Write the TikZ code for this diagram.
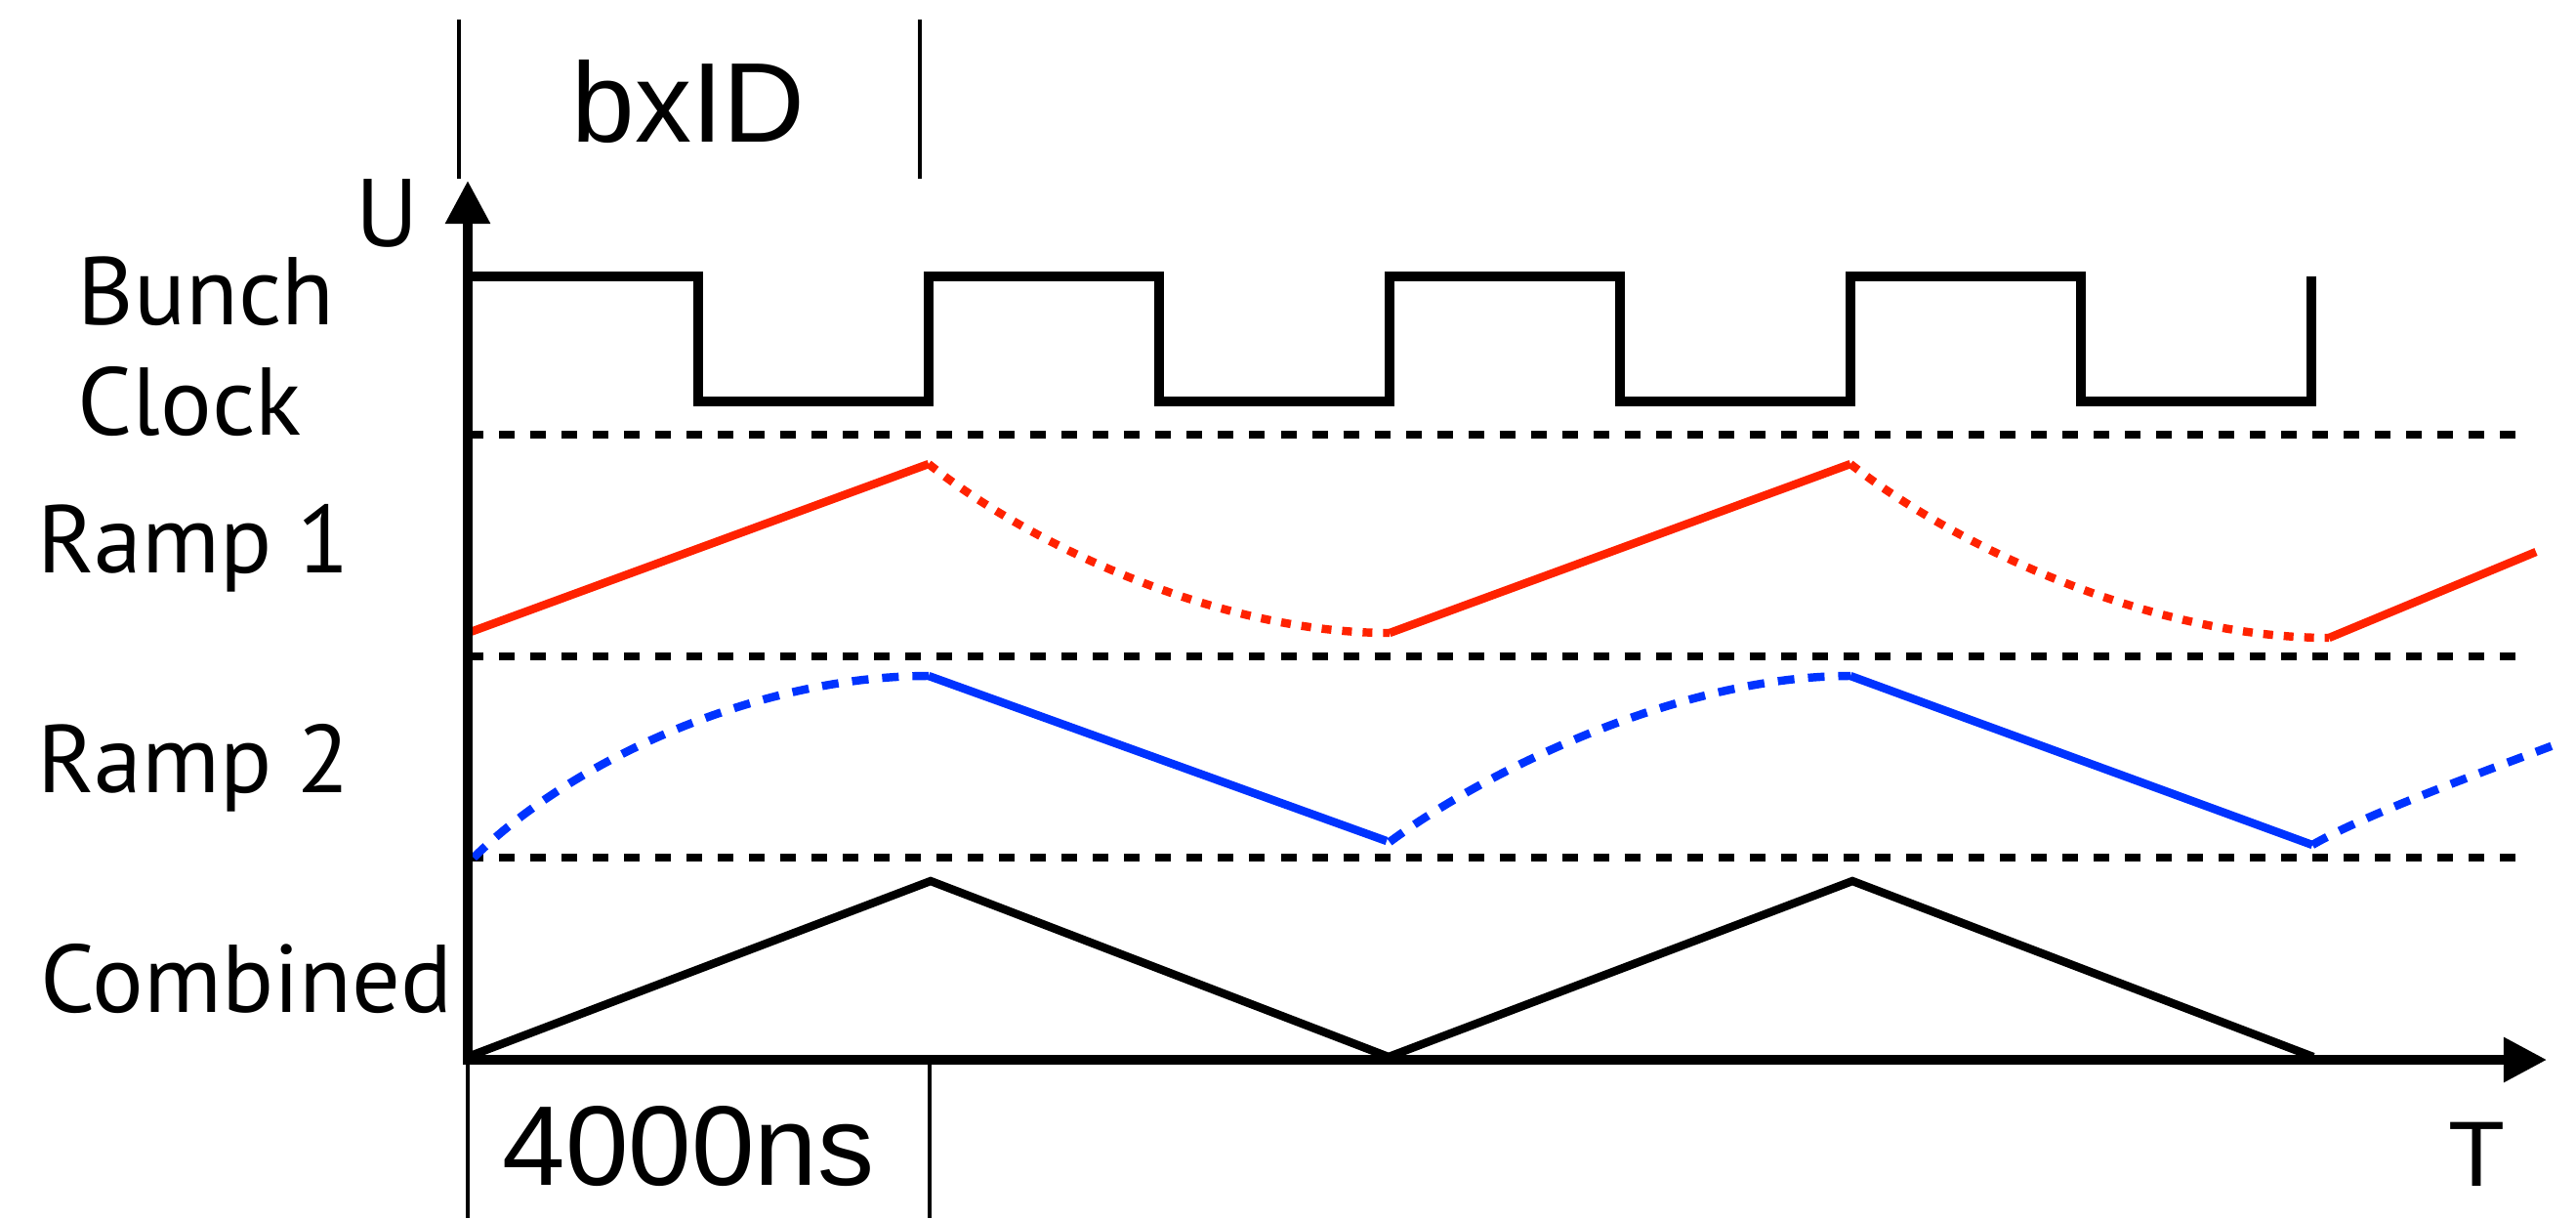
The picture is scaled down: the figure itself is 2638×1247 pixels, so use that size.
\documentclass[tikz,border=0pt]{standalone}
\usepackage{fontspec}
\setmainfont{Liberation Sans}
\newfontfamily\labelfont{PT Sans}
\usetikzlibrary{arrows.meta}
\definecolor{rampred}{RGB}{255,34,0}
\definecolor{rampblue}{RGB}{0,51,255}
\begin{document}
\begin{tikzpicture}[x=.01cm,y=-.01cm,>={Triangle[length=.44cm,width=.44cm]},
    lbl/.style={font=\labelfont\fontsize{28}{32}\selectfont,inner sep=0,align=left},
    big/.style={font=\fontsize{33}{38}\selectfont,inner sep=0},
    sep/.style={line width=2.3pt,dash pattern=on .16cm off .16cm},
    tick/.style={line width=1.1pt},
    redramp/.style={rampred,line width=2.4pt},
    blueramp/.style={rampblue,line width=2.4pt}]
    \useasboundingbox (0,0) rectangle (2638,1247);
    \coordinate (o) at (479,1085);
    % labels
    \node[lbl,anchor=base] (u) at (397,252) {U};
    \node[lbl,anchor=base west] (bunch) at (79,445) {Bunch\\Clock};
    \node[lbl,anchor=base west] (ramp1) at (38,586) {Ramp 1};
    \node[lbl,anchor=base west] (ramp2) at (38,811) {Ramp 2};
    \node[lbl,anchor=base west] (comb) at (41,1036) {Combined};
    \node[big,anchor=base] (bxid) at (705,145) {bxID};
    \node[big,anchor=base] (ns) at (705,1213) {4000ns};
    \node[big,font=\fontsize{27}{32}\selectfont,anchor=base] (t) at (2536,1214) {T};
    \draw[tick](470,20)--(470,183);
    \draw[tick](942,20)--(942,183);
    \draw[tick](o)--(479,1247);
    \draw[tick](952,1085)--(952,1247);
    % separators
    \foreach \y in {445,672,878}
        \draw[sep](479,\y)--(2590,\y);
    % bunch clock
    \draw[line width=2.8pt] (479,283) foreach \k in {0,1,2,3}{ -| ({715+472*\k},411) -| ({951+472*\k},283) };
    % ramp 1
    \draw[redramp](479,648)--(951,475);
    \draw[redramp](1423,648)--(1895,475);
    \draw[redramp](2385,653)--(2597,565);
    \draw[redramp,dash pattern=on .10cm off .11cm](951,475) .. controls (1055,558) and (1248,648) .. (1423,648);
    \draw[redramp,dash pattern=on .10cm off .11cm](1895,475) .. controls (2003,560) and (2204,653) .. (2385,653);
    % ramp 2
    \draw[blueramp,dash pattern=on .17cm off .14cm](485,878) .. controls (588,776) and (779,692) .. (951,692);
    \draw[blueramp](951,692)--(1420,861);
    \draw[blueramp,dash pattern=on .17cm off .14cm](1423,862) .. controls (1520,790) and (1720,692) .. (1895,692);
    \draw[blueramp](1895,692)--(2368,865);
    \draw[blueramp,dash pattern=on .17cm off .14cm](2368,865) .. controls (2420,835) and (2530,795) .. (2615,763);
    % combined
    \draw[line width=2.4pt](479,1082)--(953,902)--(1422,1082)--(1897,902)--(2369,1082);
    % axes
    \draw[line width=2.6pt,<->](479,185)|-(2608,1085);
\end{tikzpicture}
\end{document}
